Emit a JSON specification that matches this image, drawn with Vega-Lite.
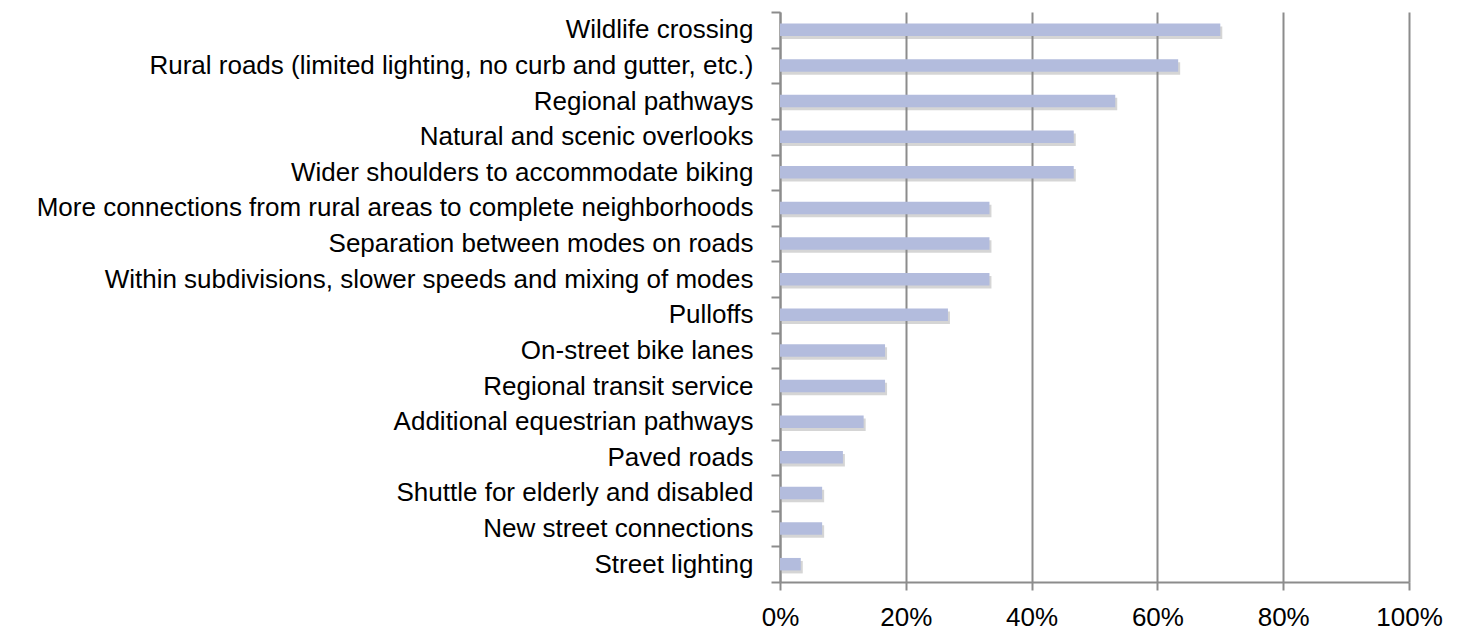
{
  "$schema": "https://vega.github.io/schema/vega-lite/v6.json",
  "width": 629,
  "height": 570,
  "autosize": {"type": "none"},
  "padding": {"left": 780, "top": 12, "right": 53, "bottom": 49},
  "background": "white",
  "config": {"view": {"stroke": null}, "font": "Liberation Sans"},
  "data": {
    "values": [
      {"item": "Wildlife crossing", "pct": 0.70},
      {"item": "Rural roads (limited lighting,  no curb and gutter, etc.)", "pct": 0.633},
      {"item": "Regional pathways", "pct": 0.533},
      {"item": "Natural and scenic overlooks", "pct": 0.467},
      {"item": "Wider shoulders to accommodate biking", "pct": 0.467},
      {"item": "More connections from rural areas to complete neighborhoods", "pct": 0.333},
      {"item": "Separation between modes on roads", "pct": 0.333},
      {"item": "Within subdivisions, slower speeds and mixing of modes", "pct": 0.333},
      {"item": "Pulloffs", "pct": 0.267},
      {"item": "On-street bike lanes", "pct": 0.167},
      {"item": "Regional transit service", "pct": 0.167},
      {"item": "Additional equestrian pathways", "pct": 0.133},
      {"item": "Paved roads", "pct": 0.10},
      {"item": "Shuttle for elderly and disabled", "pct": 0.067},
      {"item": "New street connections", "pct": 0.067},
      {"item": "Street lighting", "pct": 0.033}
    ]
  },
  "encoding": {
    "y": {
      "field": "item",
      "type": "nominal",
      "sort": null,
      "scale": {"paddingInner": 0, "paddingOuter": 0},
      "axis": {
        "title": null,
        "grid": false,
        "domainColor": "#8c8c8c",
        "domainWidth": 2,
        "tickColor": "#8c8c8c",
        "tickWidth": 2,
        "tickSize": 9,
        "tickBand": "extent",
        "labelFontSize": 26,
        "labelColor": "#000000",
        "labelPadding": 18,
        "labelLimit": 1000
      }
    },
    "x": {
      "field": "pct",
      "type": "quantitative",
      "scale": {"domain": [0, 1]},
      "axis": {
        "title": null,
        "format": ".0%",
        "values": [0, 0.2, 0.4, 0.6, 0.8, 1],
        "grid": true,
        "gridColor": "#8c8c8c",
        "gridWidth": 2,
        "domainColor": "#8c8c8c",
        "domainWidth": 2,
        "tickColor": "#8c8c8c",
        "tickWidth": 2,
        "tickSize": 8,
        "labelFontSize": 26,
        "labelColor": "#000000",
        "labelPadding": 14,
        "labelFlush": false
      }
    }
  },
  "layer": [
    {"mark": {"type": "bar", "color": "#888888", "opacity": 0.35, "height": {"band": 0.35}, "xOffset": 2, "yOffset": 3}},
    {"mark": {"type": "bar", "color": "#b3bcdd", "height": {"band": 0.35}}}
  ]
}
